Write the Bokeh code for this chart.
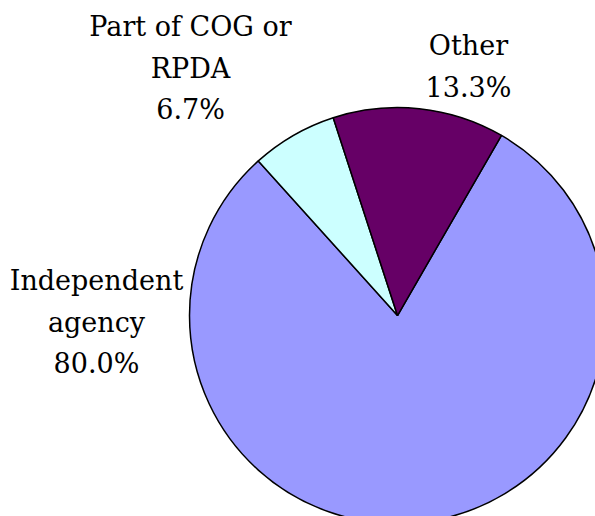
import math
from bokeh.plotting import figure
from bokeh.models import ColumnDataSource, Range1d, Label
from bokeh.core.properties import value
from bokeh.embed import file_html
from bokeh.resources import INLINE

# Data
categories = ["Independent agency", "Part of COG or RPDA", "Other"]
label_lines = [["Independent", "agency"], ["Part of COG or", "RPDA"], ["Other"]]
counts = [12, 1, 2]
colors = ["#9999FF", "#CCFFFF", "#660066"]

W, H = 595, 516
p = figure(width=W, height=H, output_backend="svg", toolbar_location=None,
           x_range=Range1d(0, W), y_range=Range1d(0, H), min_border=0)
p.axis.visible = False
p.grid.visible = False
p.outline_line_color = None
p.background_fill_color = "white"
p.border_fill_color = "white"

def sx(x):
    return x

def sy(y):
    return H - y

total = sum(counts)
shares = [c / total for c in counts]
first_angle = math.radians(90 - 30)  # first slice starts 30 deg clockwise from top
starts, ends = [], []
acc = 0.0
for s in shares:
    starts.append(first_angle - acc * 2 * math.pi)
    acc += s
    ends.append(first_angle - acc * 2 * math.pi)

cx, cy, r = sx(397), sy(315), 208
src = ColumnDataSource(dict(start=starts, end=ends, color=colors, name=categories))
p.wedge(x=cx, y=cy, radius=r, start_angle="start", end_angle="end",
        direction="clock", fill_color="color", line_color="black", line_width=1.5,
        source=src)

# Labels: (center x, first baseline y) in screen pixels
anchors = [(96, 280), (190, 26), (468, 45)]
spacing = 41.5
for lines, share, (ax, ay) in zip(label_lines, shares, anchors):
    all_lines = lines + ["%.1f%%" % (share * 100)]
    for i, t in enumerate(all_lines):
        p.add_layout(Label(x=sx(ax), y=sy(ay + i * spacing), text=t,
                           text_align="center", text_baseline="alphabetic",
                           text_font="DejaVu Serif", text_font_size="27px",
                           text_color="black"))

open("out.html", "w").write(file_html(p, INLINE))
